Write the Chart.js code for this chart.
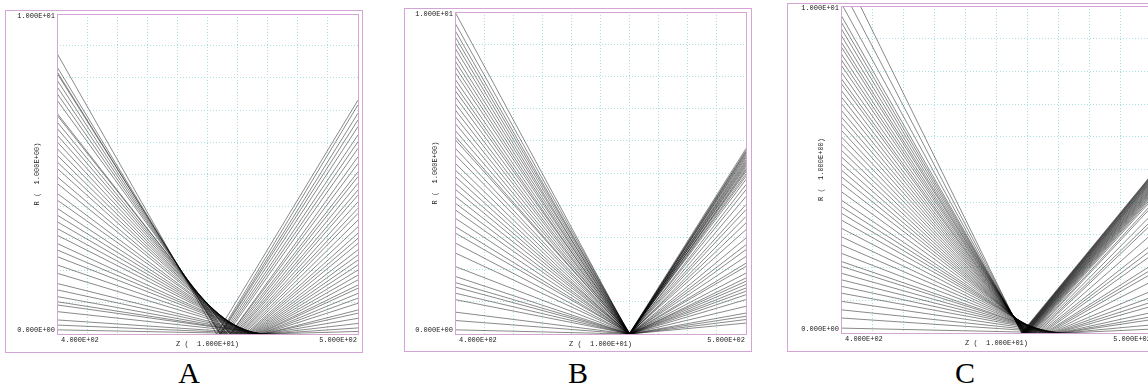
<!DOCTYPE html>
<html><head><meta charset="utf-8">
<script src="https://cdn.jsdelivr.net/npm/chart.js@4.4.1/dist/chart.umd.min.js"></script>
<style>
html,body{margin:0;padding:0;background:#fff;overflow:hidden;width:1148px;height:385px;}
.panel{position:absolute;}
canvas{display:block;}
.lab{position:absolute;font-family:"Liberation Serif","DejaVu Serif",serif;font-size:30px;line-height:30px;color:#000;transform:translateX(-50%);}
</style></head><body>
<div class="panel" style="left:5px;top:10px;"><canvas id="cA" width="358" height="343"></canvas></div>
<div class="panel" style="left:404px;top:8px;"><canvas id="cB" width="348" height="344"></canvas></div>
<div class="panel" style="left:787px;top:3px;"><canvas id="cC" width="370" height="349"></canvas></div>
<div class="lab" style="left:189px;top:358px">A</div>
<div class="lab" style="left:578px;top:358px">B</div>
<div class="lab" style="left:965px;top:358px">C</div>
<script>
// ---- data ----
const zRange = [400, 500];
const rRange = [0, 10];
const xTickLabels = ['4.000E+02', '5.000E+02'];
const yTickLabels = ['0.000E+00', '1.000E+01'];
const xTitle = 'Z (  1.000E+01)';
const yTitle = 'R (  1.000E+00)';

// Panel A: R at Z=400, axis-crossing Z, R at Z=500
const leftA = [8.77, 8.35, 8.20, 8.15, 7.94, 7.73, 7.52, 7.31, 6.90, 6.84, 6.63, 6.43, 6.22, 6.01, 5.80, 5.59, 5.38, 5.18, 4.92, 4.71, 4.40, 4.19, 3.93, 3.72, 3.51, 3.30, 3.09, 2.83, 2.63, 2.42, 2.16, 1.90, 1.58, 1.38, 1.17, 1.01, 0.91, 0.70, 0.44, 0.28, 0.13];
const focusA = [453.0, 454.0, 454.3, 454.5, 455.0, 455.5, 456.0, 456.5, 457.5, 457.6, 458.0, 458.5, 459.0, 459.4, 459.8, 460.3, 460.7, 461.1, 461.6, 462.0, 462.6, 463.0, 463.4, 463.8, 464.2, 464.6, 465.0, 465.4, 465.8, 466.2, 466.6, 467.0, 467.5, 467.8, 468.2, 468.5, 468.7, 469.0, 469.5, 469.8, 470.0];
const rightA = [7.31, 7.16, 6.90, 6.69, 6.48, 6.22, 6.01, 5.80, 5.54, 5.33, 5.07, 4.92, 4.71, 4.50, 4.34, 4.13, 3.93, 3.77, 3.56, 3.35, 3.15, 2.99, 2.83, 2.63, 2.47, 2.31, 2.16, 2.00, 1.84, 1.69, 1.53, 1.43, 1.27, 1.12, 0.96, 0.75, 0.65, 0.49, 0.33, 0.19, 0.08];

// Panel B
const leftB = [10.0, 9.66, 9.43, 9.24, 9.06, 8.88, 8.67, 8.49, 8.31, 8.13, 7.92, 7.74, 7.57, 7.38, 7.17, 6.97, 6.76, 6.55, 6.33, 6.14, 6.04, 5.78, 5.57, 5.31, 5.10, 4.90, 4.69, 4.50, 4.28, 4.07, 3.86, 3.60, 3.34, 3.14, 2.83, 2.52, 2.10, 1.79, 1.60, 1.46, 1.27, 1.07, 0.68, 0.42, 0.13];
const focusB = [459.8, 460.0, 459.9, 460.1, 460.0, 459.8, 460.2, 460.0, 459.9, 460.1, 460.0, 459.8, 460.2, 460.0, 459.9, 460.1, 460.0, 459.9, 460.2, 460.0, 460.1, 459.9, 460.0, 460.2, 460.0, 459.8, 460.1, 460.0, 460.2, 459.9, 460.0, 460.1, 460.0, 460.2, 459.9, 460.0, 460.1, 460.0, 460.2, 460.0, 459.9, 460.1, 460.0, 460.2, 460.0];
const rightB = [5.76, 5.70, 5.66, 5.62, 5.57, 5.52, 5.47, 5.41, 5.36, 5.31, 5.26, 5.21, 5.15, 5.10, 5.05, 4.97, 4.90, 4.80, 4.64, 4.48, 4.27, 4.02, 3.86, 3.65, 3.45, 3.24, 2.98, 2.77, 2.62, 2.41, 2.20, 2.10, 1.89, 1.74, 1.64, 1.54, 1.43, 1.33, 1.22, 1.07, 0.86, 0.65, 0.55, 0.45, 0.34];

// Panel C
const leftC = [11.2, 10.6, 10.1, 9.72, 9.52, 9.32, 9.11, 8.91, 8.76, 8.55, 8.37, 8.20, 7.99, 7.79, 7.64, 7.43, 7.23, 7.03, 6.82, 6.62, 6.42, 6.21, 6.01, 5.80, 5.60, 5.40, 5.19, 4.99, 4.79, 4.58, 4.33, 4.07, 3.87, 3.67, 3.46, 3.21, 2.95, 2.70, 2.44, 2.19, 2.04, 1.83, 1.63, 1.43, 1.22, 0.97, 0.71, 0.46, 0.15];
const focusC = [458.0, 458.2, 458.3, 458.4, 458.5, 458.6, 458.7, 458.8, 458.9, 459.0, 459.1, 459.2, 459.3, 459.4, 459.5, 459.6, 459.7, 459.8, 460.0, 460.1, 460.3, 460.4, 460.6, 460.8, 461.0, 461.2, 461.5, 461.8, 462.1, 462.4, 462.8, 463.2, 463.6, 464.0, 464.5, 465.0, 465.5, 466.0, 466.6, 467.2, 467.6, 468.2, 468.8, 469.4, 470.0, 470.6, 471.2, 471.8, 472.5];
const rightC = [4.86, 4.84, 4.82, 4.80, 4.78, 4.76, 4.73, 4.71, 4.69, 4.66, 4.64, 4.61, 4.58, 4.55, 4.52, 4.49, 4.46, 4.43, 4.40, 4.37, 4.34, 4.30, 4.27, 4.23, 4.19, 4.14, 4.08, 3.95, 3.87, 3.63, 3.45, 3.34, 3.03, 2.71, 2.55, 2.39, 2.08, 1.95, 1.82, 1.58, 1.29, 1.10, 0.95, 0.82, 0.63, 0.50, 0.41, 0.25, 0.12];

// ---- style ----
const MAGENTA = '#d4a4d4';
const GRID = 'rgb(172,224,224)';
const RAY = 'rgba(0,0,0,0.62)';
const TXT = '#1a1a1a';
const FONT = '7px "Liberation Mono", "DejaVu Sans Mono", monospace';

const decor = {
  id: 'decor',
  beforeDraw(chart) {
    const {ctx, width, height} = chart;
    ctx.save(); ctx.fillStyle = '#fff'; ctx.fillRect(0, 0, width, height); ctx.restore();
  },
  afterDraw(chart) {
    const {ctx, width, height, scales} = chart;
    const xs = scales.x, ys = scales.y;
    const L = Math.round(xs.getPixelForValue(zRange[0]));
    const R = Math.round(xs.getPixelForValue(zRange[1]));
    const T = Math.round(ys.getPixelForValue(rRange[1]));
    const B = Math.round(ys.getPixelForValue(rRange[0]));
    ctx.save();
    ctx.strokeStyle = MAGENTA; ctx.lineWidth = 1;
    ctx.strokeRect(0.5, 0.5, width - 1, height - 1);
    ctx.strokeRect(L + 0.5, T + 0.5, R - L, B - T);
    ctx.fillStyle = TXT; ctx.font = FONT;
    ctx.textBaseline = 'middle';
    ctx.textAlign = 'right';
    ctx.fillText(yTickLabels[1], L - 2, T + 2.5);
    ctx.fillText(yTickLabels[0], L - 2, B - 4);
    ctx.textAlign = 'left';
    ctx.fillText(xTickLabels[0], L + 4, B + 6);
    ctx.textAlign = 'right';
    ctx.fillText(xTickLabels[1], R - 1, B + 6);
    ctx.textAlign = 'center';
    ctx.fillText(xTitle, (L + R) / 2, B + 10);
    ctx.translate(L - 20, (T + B) / 2);
    ctx.rotate(-Math.PI / 2);
    ctx.fillText(yTitle, 0, 0);
    ctx.restore();
  }
};

function makeChart(id, left, focus, right, pad) {
  const datasets = left.map((v, i) => ({
    data: [{x: zRange[0], y: v}, {x: focus[i], y: rRange[0]}, {x: zRange[1], y: right[i]}],
    borderColor: RAY, borderWidth: 0.75, pointRadius: 0, showLine: true, fill: false, tension: 0
  }));
  const gridColor = c => (c.index === 0 || c.index === 10) ? 'rgba(0,0,0,0)' : GRID;
  return new Chart(document.getElementById(id), {
    type: 'scatter',
    data: {datasets},
    options: {
      responsive: false, animation: false, devicePixelRatio: 1, events: [],
      layout: {padding: pad},
      plugins: {legend: {display: false}, tooltip: {enabled: false}},
      scales: {
        x: {type: 'linear', min: zRange[0], max: zRange[1],
            ticks: {display: false, stepSize: 10},
            grid: {color: gridColor, drawTicks: false, lineWidth: 1},
            border: {display: false, dash: [1, 2]}},
        y: {type: 'linear', min: rRange[0], max: rRange[1],
            ticks: {display: false, stepSize: 1},
            grid: {color: gridColor, drawTicks: false, lineWidth: 1},
            border: {display: false, dash: [1, 2]}}
      }
    },
    plugins: [decor]
  });
}

makeChart('cA', leftA, focusA, rightA, {left: 52, top: 4, right: 5, bottom: 19});
makeChart('cB', leftB, focusB, rightB, {left: 51, top: 4, right: 6, bottom: 18});
makeChart('cC', leftC, focusC, rightC, {left: 54, top: 3, right: 5, bottom: 19});
</script>
</body></html>
